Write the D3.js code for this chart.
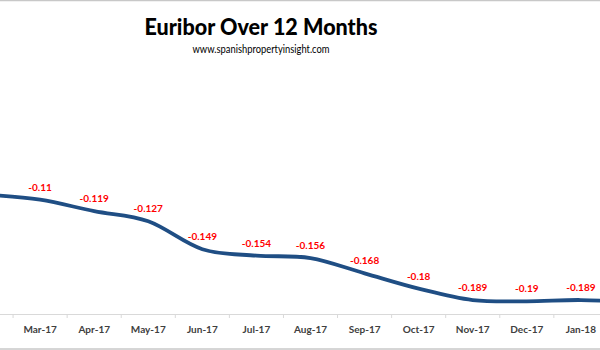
<!DOCTYPE html>
<html><head><meta charset="utf-8">
<script src="https://cdn.jsdelivr.net/npm/d3@7"></script>
<style>html,body{margin:0;padding:0;background:#fff;overflow:hidden}</style>
</head><body>
<svg id="c" width="600" height="350"></svg>
<script>
const months = ["Feb-17","Mar-17","Apr-17","May-17","Jun-17","Jul-17","Aug-17","Sep-17","Oct-17","Nov-17","Dec-17","Jan-18","Feb-18"];
const euribor = [-0.106,-0.11,-0.119,-0.127,-0.149,-0.154,-0.156,-0.168,-0.18,-0.189,-0.19,-0.189,-0.191];
const labelText = ["-0.106","-0.11","-0.119","-0.127","-0.149","-0.154","-0.156","-0.168","-0.18","-0.189","-0.19","-0.189","-0.191"];
const titleText = "Euribor Over 12 Months";
const subtitleText = "www.spanishpropertyinsight.com";

const W = 600;
const svg = d3.select("#c");
const font = "Lato, 'Open Sans', sans-serif";

// chart border (cropped frame)
svg.append("rect").attr("x",-60).attr("y",0.5).attr("width",760).attr("height",348.5)
  .attr("fill","none").attr("stroke","#c8c8c8").attr("stroke-width",1.5);

const x = d3.scaleBand().domain(months).range([-41, 662]);
const y = d3.scaleLinear().domain([-0.2, 0]).range([314, 60]);
const cx = m => x(m) + x.bandwidth()/2;

svg.append("text").attr("x",261).attr("y",35).attr("text-anchor","middle")
  .attr("font-family",font).attr("font-weight","900").attr("font-size",22).attr("fill","#000")
  .attr("textLength",233).attr("lengthAdjust","spacingAndGlyphs")
  .text(titleText);
svg.append("text").attr("x",261).attr("y",53).attr("text-anchor","middle")
  .attr("font-family",font).attr("font-size",10.5).attr("fill","#000")
  .attr("textLength",137).attr("lengthAdjust","spacingAndGlyphs")
  .text(subtitleText);

const visible = months.filter(m => cx(m) - 18 >= 0 && cx(m) + 18 <= W);
const xAxis = d3.axisBottom(x).tickSize(0).tickPadding(12).tickValues(visible);
const ag = svg.append("g").attr("transform","translate(0,314)").call(xAxis);
ag.select(".domain").attr("stroke","#d9d9d9").attr("stroke-width",1);
ag.selectAll("text").attr("font-family",font).attr("font-weight","bold").attr("font-size",10).attr("fill","#404040");
// category boundary ticks
ag.selectAll("line.bt").data(months).enter().append("line").attr("class","bt")
  .attr("x1",d=>x(d)+x.bandwidth()).attr("x2",d=>x(d)+x.bandwidth())
  .attr("y1",0).attr("y2",4).attr("stroke","#d9d9d9");

const pts = months.map((m,i)=>({m, v:euribor[i], t:labelText[i]}));
const line = d3.line().x(d=>cx(d.m)).y(d=>y(d.v)).curve(d3.curveCatmullRom.alpha(0));
svg.append("path").datum(pts).attr("d",line).attr("fill","none")
  .attr("stroke","#1f4e84").attr("stroke-width",3.8).attr("stroke-linecap","round");

svg.selectAll("text.dl").data(pts.filter(d => visible.includes(d.m))).enter().append("text").attr("class","dl")
  .attr("x",d=>cx(d.m)).attr("y",d=>y(d.v)-9)
  .attr("text-anchor","middle").attr("font-family",font).attr("font-weight","bold")
  .attr("font-size",10).attr("fill","#ff0000").text(d=>d.t);
</script>
</body></html>
